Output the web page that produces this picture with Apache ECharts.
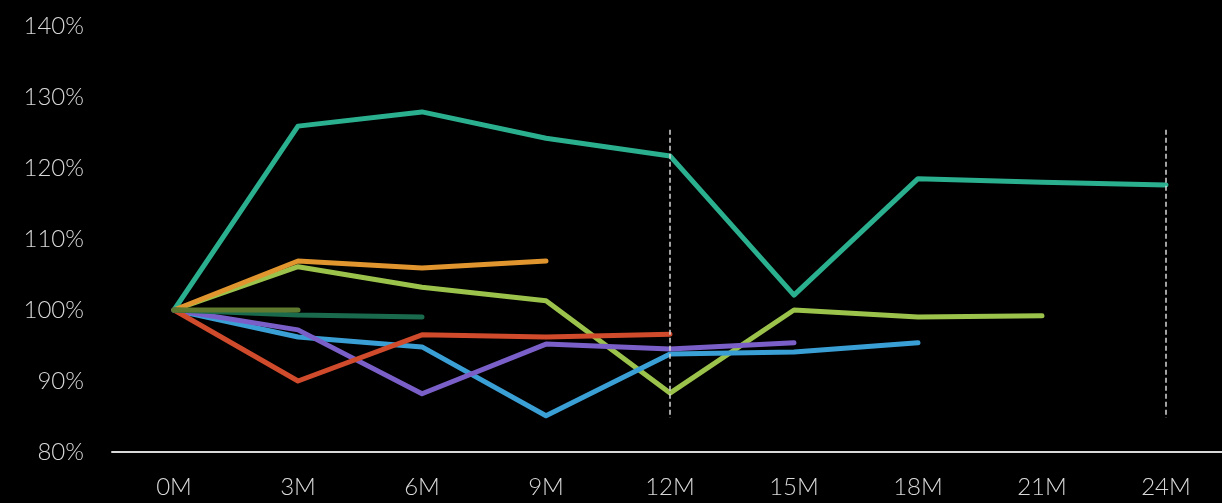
<!DOCTYPE html>
<html><head><meta charset="utf-8">
<script src="https://cdn.jsdelivr.net/npm/echarts@6/dist/echarts.min.js"></script>
<style>html,body{margin:0;padding:0;background:#000;}#c{width:1222px;height:503px;}</style>
</head><body><div id="c"></div>
<script>
const categories = ['0M','3M','6M','9M','12M','15M','18M','21M','24M'];
const teal = [100, 125.9, 127.9, 124.2, 121.7, 102.1, 118.5, 118.0, 117.6];
const orange = [100, 106.9, 105.9, 106.9];
const lime = [100, 106.1, 103.2, 101.3, 88.3, 100.0, 99.0, 99.2];
const blue = [100, 96.2, 94.8, 85.1, 93.8, 94.1, 95.4];
const purple = [100, 97.2, 88.2, 95.2, 94.5, 95.4];
const red = [100, 90.0, 96.5, 96.2, 96.6];
const darkGreen = [100, 99.3, 99.0];
const olive = [100, 100.0];
const markerCats = ['12M','24M'];
const markerRange = [125.4, 84.8];

const mk = (data, color) => ({
  type:'line', data, symbol:'none', smooth:false,
  lineStyle:{color, width:5, cap:'round', join:'round'},
  itemStyle:{color}, z:2
});
const fontFamily = 'Lato, "Noto Sans", sans-serif';
const chart = echarts.init(document.getElementById('c'), null, {renderer:'canvas'});
const series = [
  mk(teal,'#2bb08f'),
  mk(lime,'#9bc24b'),
  mk(orange,'#e0952e'),
  mk(blue,'#3a9fd4'),
  mk(purple,'#7b5fc8'),
  mk(red,'#d04a2c'),
  mk(darkGreen,'#1a6b4e'),
  mk(olive,'#5f7a2e'),
];
series[0].markLine = {
  silent:true, symbol:['none','none'], label:{show:false},
  lineStyle:{color:'#d8d8d8', type:[5,3], width:1.5},
  data: markerCats.map(c => [{coord:[c, markerRange[0]]},{coord:[c, markerRange[1]]}])
};
chart.setOption({
  backgroundColor:'#000',
  animation:false,
  grid:{left:112, top:26, width:1116, height:426, containLabel:false, outerBoundsMode:'none'},
  xAxis:{type:'category', data:categories, boundaryGap:true,
    axisLine:{lineStyle:{color:'#d9d9d9', width:2}},
    axisTick:{show:false},
    axisLabel:{color:'#d9d9d9', fontSize:24, fontWeight:300, fontFamily, margin:23}},
  yAxis:{type:'value', min:80, max:140, interval:10,
    axisLine:{show:false}, axisTick:{show:false}, splitLine:{show:false},
    axisLabel:{color:'#d9d9d9', fontSize:24, fontWeight:300, fontFamily, margin:28, formatter:'{value}%'}},
  series
});
</script></body></html>
